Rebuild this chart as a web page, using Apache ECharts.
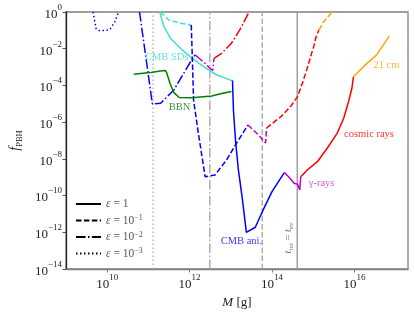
<!DOCTYPE html>
<html><head><meta charset="utf-8">
<script src="https://cdn.jsdelivr.net/npm/echarts@6/dist/echarts.min.js"></script>
<style>html,body{margin:0;padding:0;background:#fff}#c{width:415px;height:315px}</style>
</head><body><div id="c"></div>
<script>
// ---- data: [M in g, f_PBH] ----
const eps3_dotted = [[4.54e9,1],[5.4e9,0.12],[6.3e9,0.098],[8.8e9,0.098],[1.16e10,0.11],[1.53e10,0.29],[1.9e10,1]];
const eps2_cmbAni = [[6.1e10,1],[1.25e11,9.8e-6],[1.98e11,1.07e-5],[4.15e11,5.6e-5],[1.25e12,3.7e-3],[1.37e12,4.6e-3]];
const eps2_gamma = [[1.37e12,4.6e-3],[1.78e12,2.75e-3],[2.34e12,1.66e-3],[2.92e12,1.0e-3],[3.65e12,6.5e-4],[3.92e12,3.0e-3]];
const eps2_cosmic = [[3.92e12,3.0e-3],[6.0e12,5.6e-3],[1.04e13,0.02],[1.65e13,0.105],[2.77e13,1]];
const eps1_cmbSD = [[1.88e11,1],[2.39e11,0.158],[3.44e11,0.037],[5.98e11,0.0105],[1.04e12,3.7e-3],[2.18e12,1.05e-3],[4.55e12,3.7e-4],[9.5e12,2.0e-4],[1.10e13,1.86e-4]];
const eps01_cmbSD = [[1.91e11,1],[3.15e11,0.366],[5.9e11,0.243],[1.1e12,0.196]];
const eps01_cmbAni = [[1.1e12,0.196],[1.17e12,2.4e-3],[1.25e12,1.6e-5],[1.59e12,3.7e-7],[2.38e12,1.07e-9],[4.14e12,1.32e-9],[7.9e12,8.7e-9],[1.37e13,7.1e-8],[2.62e13,7.0e-7]];
const eps01_gamma = [[2.62e13,7.0e-7],[3.5e13,3.7e-7],[4.9e13,1.87e-7],[6.1e13,1.0e-7],[7.0e13,7.4e-8],[7.4e13,4.8e-7]];
const eps01_cosmic = [[7.4e13,4.8e-7],[1.65e14,2.0e-6],[2.88e14,7.6e-6],[4.17e14,2.45e-5],[5.6e14,1.55e-4],[7.2e14,8.9e-4],[9.2e14,5.9e-3],[1.04e15,0.0141],[1.15e15,0.037],[1.37e15,0.105]];
const eps01_21cm = [[1.37e15,0.105],[1.81e15,0.296],[2.88e15,1]];
const eps1_bbn = [[4.4e10,4.1e-4],[1.25e11,5.2e-4],[1.95e11,6.1e-4],[2.57e11,6.5e-4],[2.79e11,4.8e-4],[3.39e11,1.2e-4],[4.2e11,3.9e-5],[5.6e11,2.2e-5],[1.14e12,2.1e-5],[3.45e12,2.66e-5],[6.0e12,3.6e-5],[1.04e13,4.7e-5]];
const eps1_cmbAni = [[1.10e13,1.86e-4],[1.16e13,4.6e-6],[1.30e13,1.07e-7],[1.53e13,2.48e-9],[1.92e13,5.8e-11],[2.39e13,9.8e-13],[3.93e13,1.88e-12],[6.1e13,1.65e-11],[1.0e14,1.63e-10],[1.99e14,1.77e-9]];
const eps1_gamma = [[1.99e14,1.77e-9],[2.51e14,1.1e-9],[3.45e14,4.7e-10],[4.17e14,4.1e-10],[4.73e14,2.0e-10],[4.99e14,1.07e-9]];
const eps1_cosmic = [[4.99e14,1.07e-9],[7.2e14,2.47e-9],[1.26e15,7.0e-9],[2.19e15,3.8e-8],[3.8e15,2.46e-7],[5.5e15,1.62e-6],[7.2e15,1.3e-5],[8.7e15,7.0e-5],[9.5e15,3.0e-4]];
const eps1_21cm = [[9.5e15,3.0e-4],[1.65e16,1.05e-3],[3.47e16,4.6e-3],[6.97e16,0.049]];
const vlineMasses = [1.3e11, 3.1e12, 5.8e13, 4.1e14];
const xTicks = [1e10, 1e12, 1e14, 1e16];
const yTicks = [1e-14, 1e-12, 1e-10, 1e-8, 1e-6, 1e-4, 1e-2, 1];
const legendNames = ['ε = 1', 'ε = 10^-1', 'ε = 10^-2', 'ε = 10^-3'];

const FONT = 'Liberation Serif';
const C = {blue:'#0000ff', cyan:'#40e0d0', green:'#008000', mag:'#bf00bf', red:'#ff0000', orange:'#ffa500'};
const DASH = {solid:'solid', dashed:[5.5,2.4], dashdot:[9.6,2.4,1.5,2.4], dotted:[1.5,2.5]};

const curves = [
  [eps3_dotted, C.blue, 'dotted'],
  [eps2_cmbAni, C.blue, 'dashdot'],
  [eps2_gamma, C.mag, 'dashdot'],
  [eps2_cosmic, C.red, 'dashdot'],
  [eps1_cmbSD, C.cyan, 'solid'],
  [eps01_cmbSD, C.cyan, 'dashed'],
  [eps01_cmbAni, C.blue, 'dashed'],
  [eps01_gamma, C.mag, 'dashed'],
  [eps01_cosmic, C.red, 'dashed'],
  [eps01_21cm, C.orange, 'dashed'],
  [eps1_bbn, C.green, 'solid'],
  [eps1_cmbAni, C.blue, 'solid'],
  [eps1_gamma, C.mag, 'solid'],
  [eps1_cosmic, C.red, 'solid'],
  [eps1_21cm, C.orange, 'solid']
];
const vlineStyles = [['dotted','#b0b0b0'],['dashdot','#a8a8a8'],['dashed','#a8a8a8'],['solid','#999999']];
const legendStyles = ['solid','dashed','dashdot','dotted'];

const annotations = [
  {text:'CMB SDs', at:[2.79e11, 3.4e-3], color:'#40e0d0'},
  {text:'BBN', at:[5.7e11, 6.2e-6], color:'#008000'},
  {text:'CMB ani.', at:[1.81e13, 3.1e-13], color:'#0000ff'},
  {text:'{n|γ-rays}', at:[1.6e15, 4.5e-10], color:'#cc33cc'},
  {text:'cosmic rays', at:[2.26e16, 2.26e-7], color:'#ff0000'},
  {text:'21 cm', at:[5.97e16, 1.19e-3], color:'#ffa500'},
  {text:'{i|t}{s|ini} = {i|t}{s|ev}', at:[2.44e14, 4.9e-13], color:'#555555', rotate:90}
];

function sup(v){
  const e = Math.round(Math.log10(v));
  return '{b|10}{e|' + (e < 0 ? '−' + (-e) : e) + '}';
}
const tickRich = {
  b:{fontFamily:FONT, fontSize:13, color:'#222', lineHeight:18, verticalAlign:'bottom'},
  e:{fontFamily:FONT, fontSize:9, color:'#222', lineHeight:18, verticalAlign:'top'}
};

const series = [];
vlineMasses.forEach((m,i)=>{
  series.push({type:'line', data:[[m,1e-14],[m,1]], symbol:'none', silent:true, z:1,
    lineStyle:{color:vlineStyles[i][1], width:1.4, type:DASH[vlineStyles[i][0]]}});
});
curves.forEach(([d,col,st])=>{
  series.push({type:'line', data:d, symbol:'none', silent:true, z:3,
    lineStyle:{color:col, width:1.5, type:DASH[st]}});
});
legendNames.forEach((n,i)=>{
  series.push({type:'line', name:n, data:[], symbol:'none', showSymbol:false,
    itemStyle:{color:'#000'}, lineStyle:{color:'#000', width:1.5, type:DASH[legendStyles[i]]}});
});
annotations.forEach(a=>{
  series.push({type:'scatter', data:[a.at], symbolSize:0, silent:true, z:5,
    label:{show:true, position:'inside', formatter:a.text, rotate:a.rotate||0,
      color:a.color, fontFamily:FONT, fontSize:10.5,
      rich:{n:{fontFamily:FONT, fontSize:10.5, color:a.color},
            i:{fontFamily:FONT, fontStyle:'italic', fontSize:10.5, color:a.color},
            s:{fontFamily:FONT, fontSize:7, color:a.color, verticalAlign:'bottom', lineHeight:14}}}});
});

const chart = echarts.init(document.getElementById('c'), null, {renderer:'canvas'});
chart.setOption({
  animation:false,
  backgroundColor:'#fff',
  grid:{left:62, right:7, top:12, bottom:46, show:true, borderColor:'#808080', borderWidth:1.3, backgroundColor:'transparent'},
  xAxis:{type:'log', logBase:10, min:1e9, max:2e17,
    name:'{i|M} [g]', nameLocation:'middle', nameGap:22,
    nameTextStyle:{fontFamily:FONT, fontSize:13, color:'#222',
      rich:{i:{fontFamily:FONT, fontStyle:'italic', fontSize:13, color:'#222'}}},
    axisLine:{show:true, lineStyle:{color:'#808080', width:1.3}},
    axisTick:{show:true, inside:false, length:3.5, customValues:xTicks, lineStyle:{color:'#808080', width:1}},
    minorTick:{show:false}, splitLine:{show:false},
    axisLabel:{customValues:xTicks, margin:4, formatter:v=>sup(v), rich:tickRich}
  },
  yAxis:{type:'log', logBase:10, min:1e-14, max:1,
    name:'{i|f}{s|PBH}', nameLocation:'middle', nameGap:40, nameRotate:90,
    nameTextStyle:{fontFamily:FONT, fontSize:13, color:'#222',
      rich:{i:{fontFamily:FONT, fontStyle:'italic', fontSize:14, color:'#222', lineHeight:18},
            s:{fontFamily:FONT, fontSize:8.5, color:'#222', verticalAlign:'bottom', lineHeight:14}}},
    axisLine:{show:true, lineStyle:{color:'#222', width:1.3}},
    axisTick:{show:true, inside:false, length:3.5, customValues:yTicks, lineStyle:{color:'#555', width:1}},
    minorTick:{show:false}, splitLine:{show:false},
    axisLabel:{customValues:yTicks, margin:4, formatter:v=>sup(v), rich:tickRich}
  },
  legend:{data:legendNames, orient:'vertical', left:70, top:193, itemWidth:25, itemHeight:8, itemGap:4,
    itemStyle:{opacity:0},
    formatter:n=>{
      const m = n.match(/10\^(-?\d+)/);
      return m ? '{i|ε} = 10{e|−' + m[1].replace('-','') + '}' : '{i|ε} = 1';
    },
    textStyle:{fontFamily:FONT, fontSize:11.5, color:'#555', padding:[0,0,0,0],
      rich:{i:{fontFamily:FONT, fontStyle:'italic', fontSize:11.5, color:'#555', lineHeight:13},
            e:{fontFamily:FONT, fontSize:8, color:'#555', verticalAlign:'top', lineHeight:13}}}
  },
  series
});
</script></body></html>
